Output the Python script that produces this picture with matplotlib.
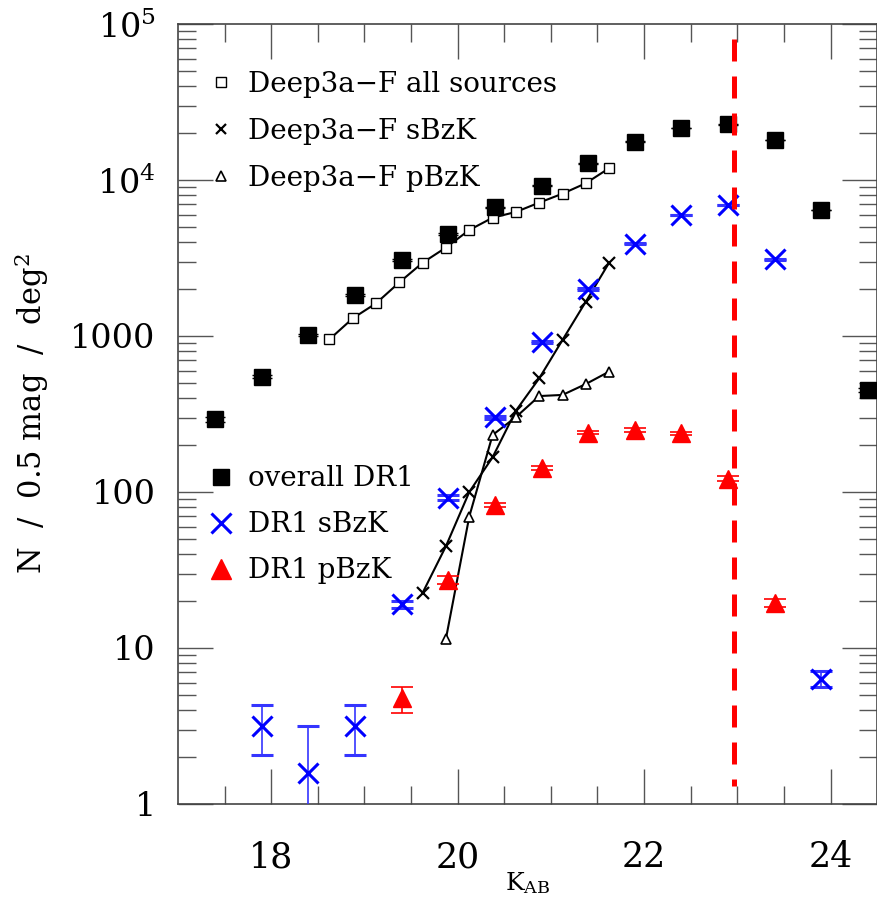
import numpy as np
import matplotlib
matplotlib.use("Agg")
import matplotlib.pyplot as plt
from matplotlib.lines import Line2D

plt.rcParams['font.family'] = ['DejaVu Serif']
plt.rcParams['mathtext.fontset'] = 'dejavuserif'

# ---- DR1 counts (0.5 mag bins) ----
k_all = [17.4, 17.9, 18.4, 18.9, 19.4, 19.9, 20.4, 20.9, 21.4, 21.9, 22.4, 22.9, 23.4, 23.9, 24.4]
n_all = [292, 548, 1019, 1832, 3070, 4506, 6680, 9200, 12800, 17600, 21600, 22700, 18000, 6420, 451]
e_all = [9, 12, 18, 25, 32, 38, 47, 55, 65, 76, 84, 86, 76, 45, 12]

k_sbzk = [17.9, 18.4, 18.9, 19.4, 19.9, 20.4, 20.9, 21.4, 21.9, 22.4, 22.9, 23.4, 23.9]
n_sbzk = [3.16, 1.59, 3.16, 19.1, 92, 301, 919, 2000, 3890, 5970, 6915, 3100, 6.3]
e_sbzk_lo = [1.10, 1.585, 1.10, 1.0, 3, 6, 12, 20, 27, 33, 35, 24, 0.7]
e_sbzk_hi = [1.14, 1.57, 1.14, 1.0, 3, 6, 12, 20, 27, 33, 35, 24, 0.8]

k_pbzk = [19.4, 19.9, 20.4, 20.9, 21.4, 21.9, 22.4, 22.9, 23.4]
n_pbzk = [4.76, 27.3, 82.6, 142, 240, 250, 238, 122, 19.5]
e_pbzk_lo = [0.95, 1.6, 3, 4, 6, 6, 6, 4, 1.2]
e_pbzk_hi = [0.90, 1.6, 3, 4, 6, 6, 6, 4, 1.2]

# ---- Deep3a-F counts (0.25 mag bins) ----
k_d3_all = [18.625, 18.875, 19.125, 19.375, 19.625, 19.875, 20.125, 20.375,
            20.625, 20.875, 21.125, 21.375, 21.625]
n_d3_all = [952, 1298, 1620, 2207, 2950, 3690, 4780, 5730, 6240, 7160, 8170, 9530, 11900]

k_d3_sbzk = [19.625, 19.875, 20.125, 20.375, 20.625, 20.875, 21.125, 21.375, 21.625]
n_d3_sbzk = [22.6, 45, 100, 167, 332, 535, 943, 1660, 2950]

k_d3_pbzk = [19.875, 20.125, 20.375, 20.625, 20.875, 21.125, 21.375, 21.625]
n_d3_pbzk = [11.5, 69.6, 232, 302, 412, 419, 492, 591]

k_limit = 22.97

fig = plt.figure(figsize=(8.78, 8.99), dpi=100)
ax = fig.add_axes([0.2027, 0.1057, 0.7963, 0.8676])

# Deep3a-F lines with small open symbols
ax.plot(k_d3_all, n_d3_all, color='black', lw=1.5, marker='s', ms=6.5,
        mfc='white', mec='black', mew=1.0, zorder=3)
ax.plot(k_d3_sbzk, n_d3_sbzk, color='black', lw=1.5, marker='x', ms=8,
        mew=1.6, zorder=3)
ax.plot(k_d3_pbzk, n_d3_pbzk, color='black', lw=1.5, marker='^', ms=7,
        mfc='white', mec='black', mew=1.2, zorder=3)

# DR1 points with error bars
ax.errorbar(k_all, n_all, yerr=e_all, fmt='s', color='black', ms=12,
            ecolor='black', elinewidth=1, capsize=7.5, capthick=1, zorder=4)
ax.errorbar(k_sbzk, n_sbzk, yerr=[e_sbzk_lo, e_sbzk_hi], fmt='x', color='blue',
            ms=14, mew=2.2, ecolor='#3535ff', elinewidth=1.2, capsize=8,
            capthick=1.2, zorder=5)
ax.errorbar(k_pbzk, n_pbzk, yerr=[e_pbzk_lo, e_pbzk_hi], fmt='^', color='red',
            ms=13, ecolor='red', elinewidth=1.2, capsize=8, capthick=1.2, zorder=5)

# completeness limit
ax.plot([k_limit, k_limit], [8e4, 1.3], color='red', lw=3.6, ls=(0, (4.4, 3.0)),
        zorder=6)

ax.set_yscale('log')
ax.set_xlim(17.0, 24.5)
ax.set_ylim(1, 1e5)

ax.set_xticks([18, 20, 22, 24])
ax.set_xticks(np.arange(17.5, 24.5, 0.5), minor=True)
ax.set_xticklabels(['18', '20', '22', '24'], fontsize=25)
ax.set_yticks([1, 10, 100, 1000, 1e4, 1e5])
ax.set_yticklabels(['1', '10', '100', '1000', r'10$^4$', r'10$^5$'], fontsize=24)

ax.tick_params(which='both', direction='in', top=True, right=True,
               color='#555555', width=1)
ax.tick_params(which='major', length=25)
ax.tick_params(which='minor', length=13)
ax.tick_params(axis='y', which='major', pad=16)
ax.tick_params(axis='x', which='major', pad=26)
for s in ax.spines.values():
    s.set_color('#444444')
    s.set_linewidth(1.2)

ax.set_xlabel(r'K$_{\mathrm{AB}}$', fontsize=18, labelpad=-3)
ax.set_ylabel(r'N  /  0.5 mag  /  deg$^2$', fontsize=22, labelpad=14)

# legends
h1 = [Line2D([], [], ls='none', marker='s', ms=6.5, mfc='white', mec='black', mew=1.0),
      Line2D([], [], ls='none', marker='x', ms=7, mec='black', mew=1.6),
      Line2D([], [], ls='none', marker='^', ms=7, mfc='white', mec='black', mew=1.2)]
leg1 = ax.legend(h1, ['Deep3a\u2212F all sources', 'Deep3a\u2212F sBzK', 'Deep3a\u2212F pBzK'],
                 loc='upper left', bbox_to_anchor=(0.042, 0.94), frameon=False,
                 fontsize=20, handlelength=1.0, handletextpad=0.45,
                 labelspacing=0.72, borderpad=0, borderaxespad=0)
ax.add_artist(leg1)

h2 = [Line2D([], [], ls='none', marker='s', ms=12, color='black'),
      Line2D([], [], ls='none', marker='x', ms=14, mew=2.2, color='blue'),
      Line2D([], [], ls='none', marker='^', ms=14, color='red')]
ax.legend(h2, ['overall DR1', 'DR1 sBzK', 'DR1 pBzK'],
          loc='upper left', bbox_to_anchor=(0.042, 0.434), frameon=False,
          fontsize=20, handlelength=1.0, handletextpad=0.45,
          labelspacing=0.68, borderpad=0, borderaxespad=0)

fig.savefig('out.png', dpi=100)
